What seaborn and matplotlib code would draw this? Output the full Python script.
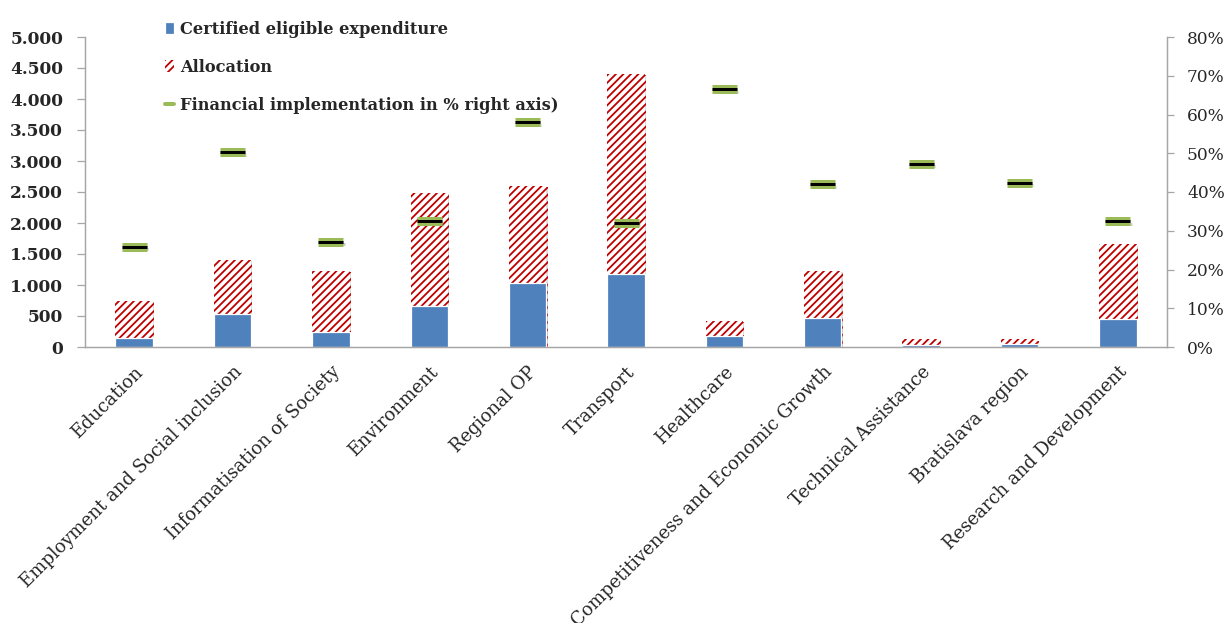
import numpy as np
import seaborn as sns
import matplotlib
matplotlib.use('Agg')
import matplotlib.pyplot as plt
import matplotlib.patheffects as pe
from matplotlib.patches import Patch
from matplotlib.lines import Line2D
from matplotlib.ticker import FuncFormatter, FixedLocator

categories = ["Education", "Employment and Social inclusion", "Informatisation of Society",
              "Environment", "Regional OP", "Transport", "Healthcare",
              "Competitiveness and Economic Growth", "Technical Assistance",
              "Bratislava region", "Research and Development"]
certified = [150, 525, 236, 665, 1040, 1179, 171, 466, 27, 43, 456]
allocation = [750, 1410, 1222, 2487, 2600, 4405, 418, 1222, 134, 124, 1654]
implementation = [25.9, 50.2, 27.2, 32.5, 58.0, 32.1, 66.5, 42.0, 47.3, 42.4, 32.5]

BLUE = "#4F81BD"
RED = "#C00000"
GREEN = "#9BBB59"
GRAY = "#A6A6A6"
DPI = 90


def px(p):
    # pixel size -> points at the save dpi
    return p * 72 / DPI


sns.set_theme(style="white")
plt.rcParams['font.family'] = ['DejaVu Serif']
plt.rcParams['hatch.linewidth'] = px(1.8)

fig = plt.figure(figsize=(1230 / DPI, 623 / DPI), dpi=DPI)
ax = fig.add_axes([85 / 1230, (623 - 347) / 623, (1167 - 85) / 1230, (347 - 37) / 623])

sns.barplot(x=categories, y=allocation, color="white", saturation=1, width=0.38,
            edgecolor=RED, hatch="////", linewidth=0, ax=ax)
sns.barplot(x=categories, y=certified, color=BLUE, saturation=1, width=0.38,
            edgecolor="white", linewidth=1, ax=ax)
# faint shadow around the bars
for bar in ax.patches:
    bar.set_path_effects([pe.SimplePatchShadow(offset=(1, -1), shadow_rgbFace="gray", alpha=0.25),
                          pe.Normal()])

ax2 = ax.twinx()
ax2.plot(np.arange(len(categories)), implementation, ls="none", marker="_",
         markersize=px(25), markeredgewidth=px(3), color="black",
         path_effects=[pe.SimpleLineShadow(offset=(1, -2), shadow_color="gray", alpha=0.4),
                       pe.Stroke(linewidth=px(9), foreground=GREEN),
                       pe.Normal()])

ax.set_xlim(-0.5, len(categories) - 0.5)
ax.set_ylim(0, 5000)
ax2.set_ylim(0, 80)
ax.set_yticks(range(0, 5001, 500))
ax2.set_yticks(range(0, 81, 10))
ax.yaxis.set_major_formatter(FuncFormatter(lambda v, _: f"{int(v):,}".replace(",", ".")))
ax2.yaxis.set_major_formatter(FuncFormatter(lambda v, _: f"{int(v)}%"))

ax.set_xlabel("")
ax.set_ylabel("")
ax.set_xticks(range(len(categories)))
ax.set_xticklabels(categories, rotation=45, ha="right", rotation_mode="anchor",
                   fontsize=px(18))
ax.xaxis.set_minor_locator(FixedLocator(np.arange(-0.5, len(categories), 1)))
ax.tick_params(axis="x", which="major", length=0, pad=px(16))
ax.tick_params(axis="x", which="minor", length=px(7), color=GRAY, width=1, direction="out")
ax.tick_params(axis="y", length=px(8), color=GRAY, width=1, direction="out", pad=px(14),
               labelsize=px(17))
ax2.tick_params(axis="y", length=px(7), color=GRAY, width=1, direction="out", pad=px(13),
                labelsize=px(17))
for lab in ax.get_yticklabels():
    lab.set_fontweight("bold")

for a in (ax, ax2):
    a.spines["top"].set_visible(False)
    for s in ("left", "bottom", "right"):
        a.spines[s].set_color(GRAY)
        a.spines[s].set_linewidth(1)
    a.grid(False)

handles = [Patch(facecolor=BLUE, edgecolor="white"),
           Patch(facecolor="white", edgecolor=RED, hatch="////", linewidth=0),
           Line2D([], [], color=GREEN, lw=px(4))]
labels = ["Certified eligible expenditure", "Allocation",
          "Financial implementation in % right axis)"]
fig.legend(handles, labels, loc="upper left", bbox_to_anchor=(158 / 1230, 1 - 14 / 623),
           frameon=False, prop={"weight": "bold", "size": px(16.3)},
           handlelength=0.6, handleheight=0.7, handletextpad=0.35, labelspacing=1.3,
           borderaxespad=0)

fig.savefig("out.png", dpi=DPI)
